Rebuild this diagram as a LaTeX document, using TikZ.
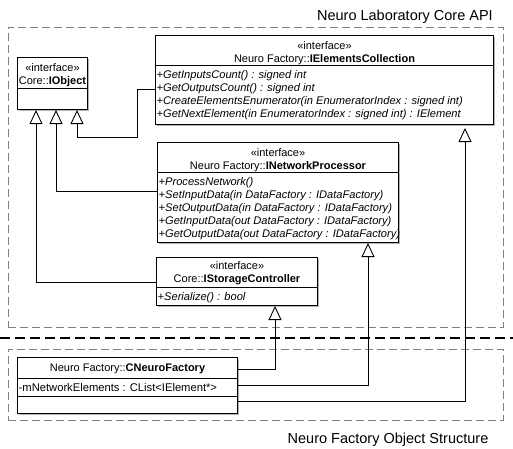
\documentclass[tikz,border=0pt]{standalone}
\usepackage{fontspec}
\setmainfont{Liberation Sans}
\usetikzlibrary{arrows.meta,shadows}
\newcommand\boxfont{\fontsize{11}{13}\selectfont}
\newcommand\itemfont{\fontsize{11.1}{13}\selectfont}
\newcommand\attrfont{\fontsize{11.2}{13}\selectfont}
\newcommand\titfont{\fontsize{14.5}{17}\selectfont}
\tikzset{
  cls/.style={draw=black, line width=1pt, fill=white, anchor=north west, inner sep=0pt,
    drop shadow={shadow xshift=1pt, shadow yshift=-1pt, fill=gray, opacity=0.6}},
  hd/.style={inner sep=0pt, anchor=base, font=\boxfont},
  item/.style={inner sep=0pt, anchor=base west, font=\itemfont\itshape},
  attr/.style={inner sep=0pt, anchor=base west, font=\attrfont},
  divider/.style={line width=1pt},
  gen/.style={line width=0.9pt, -{Triangle[open,length=14pt,width=13pt,line width=0.9pt]}},
  frame/.style={draw=gray, line width=0.8pt, dash pattern=on 8pt off 4pt, anchor=north west, inner sep=0pt},
  title/.style={inner sep=0pt, font=\titfont},
}
\begin{document}
\begin{tikzpicture}[x=1pt,y=-1pt]
\useasboundingbox (0,0) rectangle (513,448);
% frames
\node[frame, minimum width=495pt, minimum height=300pt] (apiframe) at (8,27) {};
\node[frame, minimum width=495pt, minimum height=71pt] (objframe) at (8,349) {};
\draw[line width=2pt, dash pattern=on 10pt off 5pt] (0,337.5) -- (513,337.5);
\node[title, anchor=base east] (apititle) at (493,20) {Neuro Laboratory Core API};
\node[title, anchor=base] (objtitle) at (388,443) {Neuro Factory Object Structure};

% IObject
\node[cls, minimum width=70pt, minimum height=52pt] (io) at (17,57) {};
\node[hd] (io-s) at ([yshift=-14pt]io.north) {«interface»};
\node[hd] (io-n) at ([yshift=-27pt]io.north) {Core::\textbf{IObject}};
\draw[divider] ([yshift=-31pt]io.north west) -- ([yshift=-31pt]io.north east);

% IElementsCollection
\node[cls, minimum width=338pt, minimum height=89pt] (iec) at (155,35) {};
\node[hd] (iec-s) at ([yshift=-14pt]iec.north) {«interface»};
\node[hd] (iec-n) at ([yshift=-27pt]iec.north) {Neuro Factory::\textbf{IElementsCollection}};
\draw[divider] ([yshift=-30pt]iec.north west) -- ([yshift=-30pt]iec.north east);
\foreach \t [count=\i from 0] in {{+GetInputsCount() : signed int},{+GetOutputsCount() : signed int},{+CreateElementsEnumerator(in EnumeratorIndex : signed int)},{+GetNextElement(in EnumeratorIndex : signed int) : IElement}}
  \node[item] (iec-m\i) at ([xshift=1.5pt,yshift={-43pt-13pt*\i}]iec.north west) {\t};

% INetworkProcessor
\node[cls, minimum width=241pt, minimum height=100pt] (inp) at (157,142) {};
\node[hd] (inp-s) at ([yshift=-14pt]inp.north) {«interface»};
\node[hd] (inp-n) at ([yshift=-27pt]inp.north) {Neuro Factory::\textbf{INetworkProcessor}};
\draw[divider] ([yshift=-30pt]inp.north west) -- ([yshift=-30pt]inp.north east);
\foreach \t [count=\i from 0] in {{+ProcessNetwork()},{+SetInputData(in DataFactory : IDataFactory)},{+SetOutputData(in DataFactory : IDataFactory)},{+GetInputData(out DataFactory : IDataFactory)},{+GetOutputData(out DataFactory : IDataFactory)}}
  \node[item] (inp-m\i) at ([xshift=1.5pt,yshift={-43pt-13pt*\i}]inp.north west) {\t};

% IStorageController
\node[cls, minimum width=161pt, minimum height=48pt] (isc) at (156,257) {};
\node[hd] (isc-s) at ([yshift=-12pt]isc.north) {«interface»};
\node[hd] (isc-n) at ([yshift=-25pt]isc.north) {Core::\textbf{IStorageController}};
\draw[divider] ([yshift=-30pt]isc.north west) -- ([yshift=-30pt]isc.north east);
\node[item] (isc-m0) at ([xshift=1.5pt,yshift=-43pt]isc.north west) {+Serialize() : bool};

% CNeuroFactory
\node[cls, minimum width=220pt, minimum height=56pt] (cnf) at (17,357) {};
\node[hd] (cnf-n) at ([yshift=-14pt]cnf.north) {Neuro Factory::\textbf{CNeuroFactory}};
\draw[divider] ([yshift=-21pt]cnf.north west) -- ([yshift=-21pt]cnf.north east);
\node[attr] (cnf-a0) at ([xshift=1.5pt,yshift=-34pt]cnf.north west) {-mNetworkElements : CList<IElement*>};
\draw[divider] ([yshift=-39pt]cnf.north west) -- ([yshift=-39pt]cnf.north east);

% generalizations
\draw[gen] ([yshift=-25pt]isc.north west) -| ([xshift=19pt]io.south west);
\draw[gen] ([yshift=-49pt]inp.north west) -| ([xshift=39pt]io.south west);
\draw[gen] ([yshift=-54pt]iec.north west) -- ++(-18pt,0) |- ([xshift=60pt,yshift=-27pt]io.south west) -- ([xshift=60pt]io.south west);
\draw[gen] ([yshift=-12pt]cnf.north east) -| ([xshift=119pt]isc.south west);
\draw[gen] ([yshift=-28pt]cnf.north east) -| ([xshift=211pt]inp.south west);
\draw[gen] ([yshift=-44pt]cnf.north east) -| ([xshift=310pt,yshift=-3pt]iec.south west);
\end{tikzpicture}
\end{document}
